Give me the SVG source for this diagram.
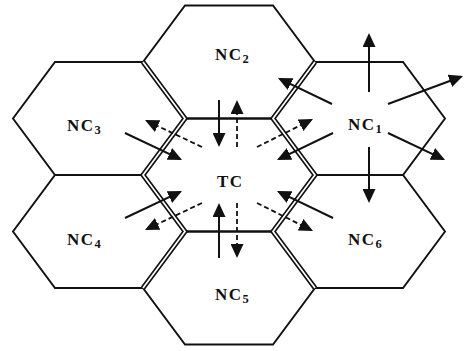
<svg xmlns="http://www.w3.org/2000/svg" width="466" height="351" viewBox="0 0 466 351">
<style>
.hex{fill:none;stroke:#111;stroke-width:1.9;stroke-linejoin:miter}
.dblo{fill:none;stroke:#111;stroke-width:5;stroke-linejoin:miter}
.dbli{fill:none;stroke:#fff;stroke-width:1.7;stroke-linejoin:miter}
.lbl{font-family:"Liberation Serif","Times New Roman",serif;font-size:17px;font-weight:bold;fill:#111;letter-spacing:1.5px}
.sub{font-size:12.5px;letter-spacing:0}
.sol{fill:none;stroke:#111;stroke-width:2;marker-end:url(#ah)}
.das{fill:none;stroke:#111;stroke-width:1.8;stroke-dasharray:5 3;marker-end:url(#ah)}
</style>
<defs>
<marker id="ah" viewBox="0 0 14 13" refX="12" refY="6.5" markerWidth="14" markerHeight="13" markerUnits="userSpaceOnUse" orient="auto">
<path d="M0,0 L14,6.5 L0,13 z" fill="#111"/>
</marker>
</defs>
<rect width="466" height="351" fill="#fff"/>
<g id="NC3"><polygon class="hex" points="55,62 143,62 185,118.5 143,175 55,175 13,118.5"/><text class="lbl" x="67" y="131">NC<tspan class="sub" dy="3">3</tspan></text></g>
<g id="NC4"><polygon class="hex" points="55,175 143,175 185,231.5 143,288 55,288 13,231.5"/><text class="lbl" x="67" y="245">NC<tspan class="sub" dy="3">4</tspan></text></g>
<g id="NC2"><polygon class="hex" points="185,5.5 273,5.5 315,62 273,118.5 185,118.5 143,62"/><text class="lbl" x="215" y="60">NC<tspan class="sub" dy="3">2</tspan></text></g>
<g id="TC"><polygon class="hex" points="185,118.5 273,118.5 315,175 273,231.5 185,231.5 143,175"/><text class="lbl" x="217" y="187">TC</text></g>
<g id="NC5"><polygon class="hex" points="185,231.5 273,231.5 315,288 273,344.5 185,344.5 143,288"/><text class="lbl" x="215" y="300">NC<tspan class="sub" dy="3">5</tspan></text></g>
<g id="NC1"><polygon class="hex" points="315,62 403,62 445,118.5 403,175 315,175 273,118.5"/><text class="lbl" x="348" y="130">NC<tspan class="sub" dy="3">1</tspan></text></g>
<g id="NC6"><polygon class="hex" points="315,175 403,175 445,231.5 403,288 315,288 273,231.5"/><text class="lbl" x="348" y="245">NC<tspan class="sub" dy="3">6</tspan></text></g>
<g id="borders">
<polyline class="dblo" points="143,62 185,118.5 143,175 185,231.5 143,288"/>
<polyline class="dblo" points="315,62 273,118.5 315,175 273,231.5 315,288"/>
<polyline class="dbli" points="143,62 185,118.5 143,175 185,231.5 143,288"/>
<polyline class="dbli" points="315,62 273,118.5 315,175 273,231.5 315,288"/>
</g>
<g id="connectors">
<line class="sol" x1="219" y1="100" x2="219" y2="145"/>
<line class="das" x1="237" y1="147" x2="237" y2="102"/>
<line class="sol" x1="219" y1="258" x2="219" y2="205"/>
<line class="das" x1="237" y1="203" x2="237" y2="256"/>
<line class="sol" x1="125" y1="133" x2="180.2" y2="159.1"/>
<line class="das" x1="202" y1="147" x2="146.8" y2="120.9"/>
<line class="sol" x1="333" y1="133" x2="278.8" y2="159.1"/>
<line class="das" x1="257" y1="147" x2="311.2" y2="119.9"/>
<line class="sol" x1="125" y1="218" x2="180.2" y2="191.9"/>
<line class="das" x1="202" y1="203" x2="146.8" y2="229.1"/>
<line class="sol" x1="333" y1="218" x2="278.8" y2="191.9"/>
<line class="das" x1="257" y1="203" x2="311.2" y2="230.1"/>
<line class="sol" x1="369" y1="92" x2="369" y2="35"/>
<line class="sol" x1="332" y1="104" x2="279.8" y2="78.9"/>
<line class="sol" x1="388" y1="104" x2="461.1" y2="76.7"/>
<line class="sol" x1="388" y1="133" x2="443.2" y2="159.1"/>
<line class="sol" x1="369" y1="147" x2="369" y2="201"/>
</g>
</svg>
